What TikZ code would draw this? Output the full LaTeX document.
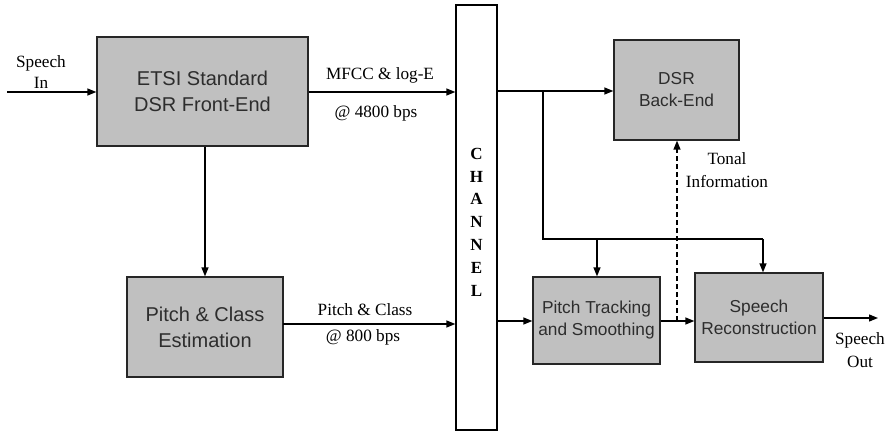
\documentclass[tikz,border=0pt]{standalone}
\usepackage{fontspec}
\setmainfont{Liberation Serif}
\setsansfont{Liberation Sans}
\usetikzlibrary{arrows.meta}
\definecolor{boxfill}{RGB}{192,192,192}
\definecolor{boxtext}{RGB}{45,45,45}
\begin{document}
\begin{tikzpicture}[x=1pt,y=-1pt,
  blk/.style={draw=black!85, line width=1.3pt, fill=boxfill, inner sep=0pt, align=center,
              text=boxtext, font=\sffamily\fontsize{17.3}{22}\selectfont},
  bigblk/.style={blk, font=\sffamily\fontsize{20}{26}\selectfont},
  lbl/.style={inner sep=0pt, align=center, font=\fontsize{17.2}{21.5}\selectfont},
  conn/.style={line width=1.3pt, -{Triangle[length=9pt,width=7pt]}},
  wire/.style={line width=1.3pt},
]
\useasboundingbox (0,0) rectangle (889,433);
% blocks
\node[bigblk, minimum width=211, minimum height=109] (fe) at (202.5,91.5) {ETSI Standard\\DSR Front-End};
\node[bigblk, minimum width=156, minimum height=100] (pce) at (205,327) {Pitch \& Class\\Estimation};
\node[draw=black, line width=1.3pt, fill=white, minimum width=41, minimum height=425, inner sep=0pt] (ch) at (476.5,217.5) {};
\node[lbl, font=\bfseries\fontsize{17}{22.8}\selectfont] (chl) at (476.5,222) {C\\H\\A\\N\\N\\E\\L};
\node[blk, minimum width=125, minimum height=100] (be) at (676.5,90) {DSR\\Back-End};
\node[blk, minimum width=127, minimum height=87] (pt) at (596.5,320.5) {Pitch Tracking\\and Smoothing};
\node[blk, minimum width=128, minimum height=89] (sr) at (759,317.5) {Speech\\Reconstruction};
% labels
\node[lbl] (lin) at (41,72) {Speech\\In};
\node[lbl] (lmf) at (380,75) {MFCC \& log-E};
\node[lbl] (lmr) at (376,113) {@ 4800 bps};
\node[lbl] (lpc) at (365,310) {Pitch \& Class};
\node[lbl] (lpr) at (363,337) {@ 800 bps};
\node[lbl, font=\fontsize{17.2}{23.5}\selectfont] (lto) at (727,170) {Tonal\\Information};
\node[lbl, font=\fontsize{17.2}{23}\selectfont] (lout) at (860,350.5) {Speech\\Out};
% coordinates
\coordinate (sin) at (7,92);
\coordinate (sout) at (878,318);
\coordinate (br) at (543,91);
\coordinate (brd) at (543,239);
\coordinate (brr) at (763,239);
\coordinate (ptin) at (597,239);
\coordinate (pcy) at (283,324);
\coordinate (dsh) at (677,321);
% connectors
\draw[conn] (sin) -- (sin -| fe.west);
\draw[conn] (pce.north |- fe.south) -- (pce.north);
\draw[conn] (fe.east |- sin) -- (sin -| ch.west);
\draw[conn] (pcy) -- (pcy -| ch.west);
\draw[conn] (ch.east |- br) -- (br -| be.west);
\draw[wire] (br) -- (brd) -- (brr);
\draw[conn] (ptin) -- (ptin |- pt.north);
\draw[conn] (brr) -- (brr |- sr.north);
\draw[conn] (ch.east |- dsh) -- (dsh -| pt.west);
\draw[conn] (pt.east |- dsh) -- (dsh -| sr.west);
\draw[conn] (sr.east |- sout) -- (sout);
\draw[line width=1.3pt, dashed, dash pattern=on 5pt off 3pt, -{Triangle[length=9pt,width=7pt]}] (dsh) -- (dsh |- be.south);
\end{tikzpicture}
\end{document}
